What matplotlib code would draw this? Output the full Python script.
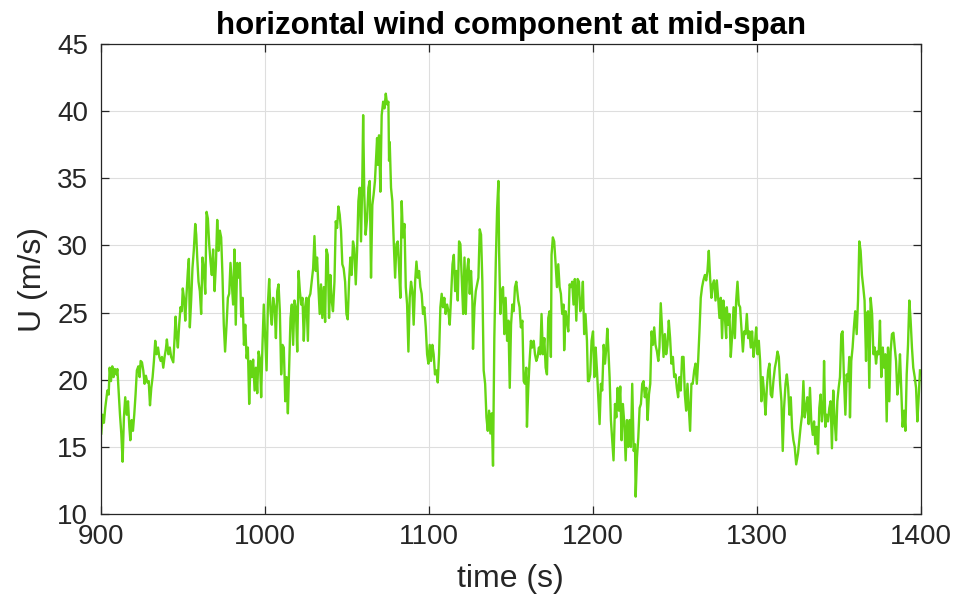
import matplotlib
matplotlib.use("Agg")
import matplotlib.pyplot as plt

plt.rcParams['font.family'] = ['Liberation Sans', 'DejaVu Sans']

# time (s) and horizontal wind speed U (m/s)
t1 = [900.3, 901.1, 901.9, 902.7, 904.0, 904.8, 905.4, 906.2, 907.0, 907.8, 908.6, 909.5, 910.1, 910.9, 911.7,
      912.5, 913.3, 914.1, 914.9, 915.8, 916.6, 917.4, 918.0, 918.8, 919.6, 920.4, 921.2, 922.0, 922.9, 923.7,
      924.3, 925.1, 925.9, 926.7, 927.5, 928.4, 929.2, 930.0, 930.8, 931.6, 932.4, 933.2, 934.0, 934.9, 935.7,
      936.5, 937.3, 938.1, 938.9, 939.7, 940.3, 941.2]
u1 = [16.0, 17.4, 16.8, 17.9, 19.2, 18.9, 20.9, 19.9, 21.0, 20.2, 20.8, 20.4, 20.8, 19.1, 17.4,
      16.0, 13.9, 17.2, 18.7, 17.4, 18.4, 16.5, 15.5, 17.0, 16.2, 17.4, 18.9, 20.7, 21.0, 20.2,
      21.4, 21.3, 20.7, 19.7, 20.3, 19.8, 19.9, 18.1, 19.4, 20.2, 21.4, 22.9, 21.9, 22.4, 21.7,
      21.4, 21.7, 20.9, 21.7, 22.3, 23.0, 21.9]

t2 = [942.1, 942.9, 944.2, 945.0, 945.6, 946.2, 947.0, 947.8, 948.6, 949.4, 950.0, 950.9, 951.5, 952.3, 953.1,
      953.7, 954.3, 955.1, 955.9, 956.7, 957.6, 958.2, 958.8, 959.6, 960.4, 961.2, 962.0, 962.8, 963.7, 964.5,
      965.3, 966.1, 966.9, 967.7, 968.5, 969.4, 970.2, 971.0, 971.8, 972.6, 973.4, 974.2, 975.0, 975.8, 976.7,
      977.5, 978.3, 979.1, 979.9, 980.7, 981.5, 982.3, 983.2, 984.0]
u2 = [22.4, 21.7, 21.3, 23.1, 24.7, 23.4, 22.4, 24.1, 25.4, 25.1, 26.8, 25.9, 24.4, 26.4, 28.1,
      29.0, 23.9, 25.9, 28.3, 29.6, 31.6, 30.8, 29.1, 27.3, 26.6, 24.9, 29.1, 28.3, 26.4, 32.5,
      32.0, 30.1, 28.8, 27.8, 29.7, 26.6, 28.6, 31.9, 29.6, 31.1, 30.6, 27.8, 24.1, 22.1, 24.1,
      26.1, 26.4, 28.7, 27.1, 25.6, 29.7, 24.1, 28.7, 27.6]

t3 = [984.8, 985.6, 986.5, 987.3, 988.1, 988.9, 989.7, 990.5, 991.3, 992.1, 992.9, 993.8, 994.6, 995.4, 996.2,
      997.0, 997.8, 998.6, 999.4, 1000.3, 1001.1, 1001.9, 1002.7, 1003.5, 1004.3, 1005.1, 1006.0, 1006.8, 1007.6,
      1008.4, 1009.2, 1010.0, 1010.8, 1011.6, 1012.5, 1013.3, 1014.1, 1014.9, 1015.7, 1016.5, 1017.3, 1018.1,
      1018.9, 1019.8, 1020.6, 1021.4, 1022.2, 1023.0, 1023.8, 1024.6, 1025.4, 1026.3, 1026.9]
u3 = [28.7, 24.7, 26.1, 22.6, 24.1, 21.6, 22.4, 18.2, 21.4, 20.2, 21.5, 19.2, 20.9, 19.0, 22.1,
      21.6, 18.7, 22.6, 25.6, 23.1, 20.7, 25.6, 27.5, 25.1, 24.1, 26.1, 25.4, 23.1, 26.6,
      27.1, 25.1, 20.4, 22.6, 22.4, 18.4, 20.2, 17.5, 21.2, 24.6, 25.6, 22.6, 25.9,
      25.4, 22.1, 28.1, 26.6, 25.6, 26.1, 22.9, 25.4, 26.1, 22.9, 26.1]

t4 = [1027.8, 1028.6, 1029.5, 1030.3, 1031.1, 1031.9, 1032.7, 1033.5, 1034.3, 1035.1, 1036.0, 1036.8, 1037.6,
      1038.4, 1039.2, 1040.0, 1040.8, 1041.6, 1042.5, 1043.3, 1044.1, 1044.9, 1045.7, 1046.5, 1047.3, 1048.1,
      1049.0, 1049.8, 1050.6, 1051.4, 1052.2, 1053.0, 1053.8, 1054.6, 1055.5, 1056.3, 1057.1, 1057.9, 1058.7,
      1059.5, 1060.0, 1060.7, 1061.5, 1062.4, 1063.2, 1064.0, 1064.8, 1065.6, 1066.4, 1067.2]
u4 = [26.4, 27.3, 28.3, 30.7, 28.1, 29.1, 26.9, 24.9, 27.1, 24.6, 26.9, 24.3, 29.7,
      29.3, 24.6, 27.8, 25.9, 25.1, 27.3, 31.8, 31.3, 32.9, 32.3, 31.1, 28.6, 28.3,
      27.3, 24.9, 24.5, 27.3, 29.1, 27.8, 30.3, 29.8, 27.1, 29.6, 33.3, 34.3, 30.3,
      35.0, 39.7, 33.8, 30.8, 32.0, 34.3, 34.8, 27.6, 33.0, 33.8, 34.8]

t5 = [1068.5, 1068.9, 1069.7, 1070.5, 1071.3, 1072.2, 1073.0, 1073.8, 1074.6, 1075.4, 1075.8, 1076.2, 1077.0,
      1077.8, 1078.7, 1079.5, 1080.3, 1081.1, 1081.9, 1082.7, 1083.5, 1084.3, 1085.2, 1086.0, 1086.8, 1087.6,
      1088.4, 1089.2, 1090.0, 1090.8, 1091.7, 1092.5, 1093.3, 1094.1, 1094.9, 1095.7, 1096.5, 1097.3, 1098.2,
      1099.0, 1099.8, 1100.6, 1101.4, 1102.2, 1103.0, 1103.8, 1104.7, 1105.5, 1106.3, 1107.1, 1107.9, 1108.7,
      1109.5, 1110.3]
u5 = [38.0, 36.0, 38.2, 34.0, 39.7, 40.7, 40.2, 41.3, 40.5, 40.7, 36.3, 37.7, 34.3,
      33.3, 30.1, 27.6, 30.1, 30.3, 28.3, 26.1, 33.3, 30.6, 31.6, 26.9, 25.6, 22.1,
      26.1, 27.3, 26.6, 24.1, 27.3, 28.8, 27.6, 28.1, 26.9, 26.4, 24.9, 25.4, 23.9,
      21.9, 21.2, 22.6, 21.4, 22.6, 21.9, 20.4, 20.7, 19.8, 21.9, 25.4, 26.4, 25.4,
      26.1, 24.9]

t6 = [1111.2, 1112.0, 1112.8, 1113.6, 1114.5, 1115.3, 1116.1, 1116.9, 1117.7, 1118.5, 1119.3, 1120.1, 1121.0,
      1121.8, 1122.6, 1123.4, 1124.2, 1125.0, 1125.8, 1126.6, 1127.0, 1127.9, 1128.7, 1129.5, 1130.3, 1131.1,
      1131.9, 1132.7, 1133.5, 1134.4, 1135.2, 1136.0, 1136.8, 1137.6, 1138.4, 1139.2, 1140.0, 1140.9, 1141.7,
      1142.5, 1142.9, 1143.7, 1144.5, 1145.3, 1146.1, 1146.9, 1147.8, 1148.6, 1149.4, 1150.2, 1151.0, 1151.8,
      1152.6, 1153.4]
u6 = [25.6, 25.1, 24.1, 26.1, 28.6, 29.3, 26.6, 28.1, 25.9, 30.3, 30.1, 27.6, 24.9,
      29.1, 24.9, 28.1, 29.0, 26.4, 28.1, 25.9, 22.3, 25.4, 26.6, 27.1, 27.6, 31.2,
      30.8, 27.3, 20.7, 19.7, 17.2, 16.2, 17.7, 16.0, 17.5, 13.6, 23.1, 28.8, 32.7,
      34.8, 29.6, 24.9, 26.6, 26.9, 23.4, 26.1, 22.9, 24.4, 19.4, 24.1, 25.6, 25.1,
      26.9, 27.3]

t7 = [1154.6, 1155.4, 1156.2, 1157.1, 1157.9, 1158.7, 1159.5, 1159.9, 1160.7, 1161.5, 1162.3, 1163.1, 1164.0,
      1164.8, 1165.6, 1166.4, 1167.2, 1168.0, 1168.8, 1169.6, 1170.5, 1171.3, 1172.1, 1172.9, 1173.7, 1174.5,
      1174.9, 1175.7, 1176.5, 1177.4, 1178.2, 1179.0, 1179.8, 1180.6, 1181.4, 1182.2, 1182.6, 1183.5, 1184.3,
      1185.1, 1185.9, 1186.7, 1187.5, 1188.3, 1189.1, 1190.0, 1190.8, 1191.6, 1192.4, 1193.2, 1194.0, 1194.8,
      1195.6, 1196.5, 1197.1]
u7 = [25.9, 25.4, 23.9, 24.4, 19.9, 19.7, 20.9, 16.5, 19.4, 21.4, 22.9, 22.4, 22.9,
      21.9, 21.4, 21.7, 22.4, 21.9, 24.9, 21.9, 23.1, 20.9, 20.4, 24.6, 25.1, 21.7,
      29.3, 30.6, 30.3, 28.6, 26.9, 28.6, 26.9, 26.4, 24.9, 25.6, 22.2, 25.1, 24.4,
      23.6, 27.1, 26.9, 27.3, 25.6, 27.5, 24.4, 27.5, 27.3, 25.1, 25.4, 27.3, 23.4,
      24.9, 22.9, 19.9]

t8 = [1197.7, 1198.5, 1199.3, 1200.2, 1201.0, 1201.8, 1202.6, 1203.4, 1204.2, 1205.0, 1205.8, 1206.7, 1207.5,
      1208.3, 1208.9, 1209.5, 1210.3, 1211.1, 1211.9, 1212.7, 1213.6, 1214.4, 1215.2, 1216.0, 1216.8, 1217.6,
      1218.4, 1219.3, 1220.1, 1220.9, 1221.7, 1222.5, 1223.3, 1224.1, 1225.0, 1225.8, 1226.2, 1227.0, 1227.8,
      1228.6, 1229.4, 1230.2, 1231.0, 1231.8, 1232.7, 1233.5, 1234.3, 1235.1, 1235.9, 1236.7, 1237.5, 1238.3,
      1239.2, 1240.0]
u8 = [19.9, 20.4, 22.9, 23.6, 20.2, 22.4, 20.7, 18.7, 16.7, 19.7, 19.2, 22.6, 21.2,
      22.4, 23.8, 22.4, 20.2, 17.0, 15.5, 14.0, 18.2, 17.2, 19.4, 17.7, 19.5, 15.5,
      18.2, 16.7, 14.0, 17.0, 15.0, 17.0, 15.0, 19.7, 14.7, 15.2, 11.3, 14.2, 15.7,
      17.9, 18.2, 19.7, 19.9, 18.7, 19.4, 17.0, 18.9, 19.7, 23.6, 22.6, 23.9, 22.6,
      22.1, 21.4]

t9 = [1240.7, 1241.5, 1242.4, 1243.2, 1244.0, 1244.8, 1245.6, 1246.4, 1247.2, 1248.0, 1248.9, 1249.7, 1250.5,
      1251.3, 1252.1, 1252.9, 1253.7, 1254.5, 1255.4, 1256.2, 1257.0, 1257.8, 1258.6, 1259.4, 1260.2, 1261.0,
      1261.9, 1262.7, 1263.5, 1264.3, 1265.1, 1265.9, 1266.7, 1267.5, 1268.4, 1269.2, 1270.0, 1270.8, 1271.6,
      1272.4, 1273.2, 1274.0, 1274.9, 1275.7, 1276.5, 1277.3, 1278.1, 1278.9, 1279.7, 1280.5, 1281.4]
u9 = [22.4, 25.7, 23.6, 21.7, 23.4, 21.9, 22.6, 24.4, 23.1, 21.2, 21.7, 20.2, 20.4,
      19.4, 18.7, 20.2, 19.2, 21.7, 21.7, 18.9, 17.7, 19.7, 17.9, 16.2, 19.7, 19.7,
      20.7, 21.2, 19.7, 21.4, 23.6, 26.1, 26.9, 27.4, 27.8, 27.4, 28.1, 29.6, 27.6,
      26.1, 27.1, 27.4, 25.9, 27.4, 26.1, 24.6, 26.1, 23.1, 25.9, 24.9, 23.1]

t10 = [1281.8, 1282.6, 1283.4, 1284.2, 1285.1, 1285.9, 1286.7, 1287.5, 1288.3, 1289.1, 1289.9, 1290.7, 1291.6,
       1292.4, 1293.2, 1294.0, 1294.8, 1295.6, 1296.4, 1297.2, 1298.1, 1298.9, 1299.7, 1300.5, 1301.3, 1302.1,
       1302.9, 1303.7, 1304.6, 1305.4, 1306.2, 1307.0, 1307.8, 1308.6, 1309.4, 1310.2, 1311.1, 1311.9, 1312.7,
       1313.5, 1314.3, 1315.1, 1315.9, 1316.7, 1317.6, 1318.4, 1319.2, 1320.0, 1320.8, 1321.6, 1322.4, 1323.2,
       1324.1]
u10 = [25.4, 24.1, 24.9, 21.7, 23.4, 25.4, 23.1, 25.9, 27.3, 25.6, 25.4, 23.9, 22.1,
       23.6, 23.4, 24.9, 23.1, 23.6, 22.4, 23.6, 21.7, 22.6, 23.9, 21.9, 22.9, 21.4,
       18.4, 20.2, 18.9, 17.4, 19.4, 20.7, 21.2, 18.9, 18.7, 19.9, 20.9, 21.4, 22.1,
       21.7, 19.7, 18.4, 14.7, 17.9, 19.7, 20.4, 19.4, 17.4, 18.7, 16.4, 15.5, 15.0,
       13.7]

t11 = [1325.2, 1326.0, 1326.8, 1327.7, 1328.5, 1329.3, 1330.1, 1330.9, 1331.7, 1332.5, 1333.3, 1334.2, 1335.0,
       1335.8, 1336.6, 1337.4, 1338.2, 1339.0, 1339.8, 1340.6, 1341.1, 1341.9, 1342.7, 1343.5, 1344.3, 1345.1,
       1345.9, 1346.7, 1347.6, 1348.4, 1349.2, 1350.0, 1350.8, 1351.6, 1352.4, 1353.2, 1354.1, 1354.9, 1355.7,
       1356.5, 1356.9, 1357.7, 1358.5, 1359.3, 1360.1, 1361.0, 1361.8, 1362.6, 1363.4, 1364.2, 1365.0, 1365.8,
       1366.7]
u11 = [14.5, 15.5, 16.5, 17.4, 19.9, 17.2, 17.9, 18.7, 16.7, 19.4, 16.9, 15.9, 16.9,
       15.2, 16.5, 14.5, 17.9, 18.9, 16.9, 17.9, 21.4, 16.5, 17.4, 16.9, 17.9, 18.4,
       14.9, 19.2, 16.9, 15.5, 18.4, 19.4, 20.2, 23.4, 23.6, 20.2, 17.4, 20.4, 19.9,
       21.7, 17.2, 21.4, 22.4, 23.9, 25.1, 23.4, 25.9, 30.3, 29.6, 27.8, 26.9, 25.9,
       21.4]

t12 = [1367.1, 1367.9, 1368.7, 1369.5, 1370.4, 1371.2, 1372.0, 1372.8, 1373.6, 1374.4, 1375.2, 1376.0, 1376.9,
       1377.7, 1378.5, 1379.3, 1380.1, 1380.9, 1381.7, 1382.5, 1383.4, 1384.2, 1385.0, 1385.8, 1386.6, 1387.4,
       1388.2, 1389.0, 1389.9, 1390.7, 1391.5, 1392.3, 1393.1, 1393.9, 1394.7, 1395.5, 1396.4, 1397.2, 1398.0,
       1398.8, 1399.6]
u12 = [24.9, 25.1, 19.4, 26.1, 24.9, 21.9, 22.4, 21.2, 22.1, 21.9, 24.4, 20.2, 22.4,
       20.9, 21.9, 16.9, 22.4, 18.4, 22.1, 23.4, 23.5, 22.4, 21.4, 18.9, 19.9, 21.9,
       19.2, 16.5, 17.7, 16.2, 20.4, 22.6, 25.9, 24.4, 22.4, 20.9, 20.2, 19.4, 16.9,
       18.7, 20.7]

time_s = t1 + t2 + t3 + t4 + t5 + t6 + t7 + t8 + t9 + t10 + t11 + t12
wind_u = u1 + u2 + u3 + u4 + u5 + u6 + u7 + u8 + u9 + u10 + u11 + u12

xticks = [900, 1000, 1100, 1200, 1300, 1400]
yticks = [10, 15, 20, 25, 30, 35, 40, 45]

fig = plt.figure(figsize=(9.6, 6.02), dpi=100)
ax = fig.add_axes([0.105, 0.146, 0.854, 0.781])
ax.plot(time_s, wind_u, color='#66d614', lw=1.7)
ax.set_xlim(900, 1400)
ax.set_ylim(10, 45)
ax.set_xticks(xticks)
ax.set_yticks(yticks)
ax.grid(True, color='#dedede', lw=0.8)
ax.set_axisbelow(True)
dark = '#262626'
for s in ax.spines.values():
    s.set_color(dark)
    s.set_linewidth(0.9)
ax.tick_params(direction='in', length=6, width=0.9, colors=dark, labelsize=20,
               top=True, right=True)
ax.tick_params(axis='x', pad=7)
ax.tick_params(axis='y', pad=9)
ax.set_xlabel('time (s)', fontsize=23, color=dark, labelpad=10)
ax.set_ylabel('U (m/s)', fontsize=23, color=dark, labelpad=7)
ax.set_title('horizontal wind component at mid-span', fontsize=22.5, fontweight='bold', color='black', pad=7)
fig.savefig('out.png', dpi=100)
